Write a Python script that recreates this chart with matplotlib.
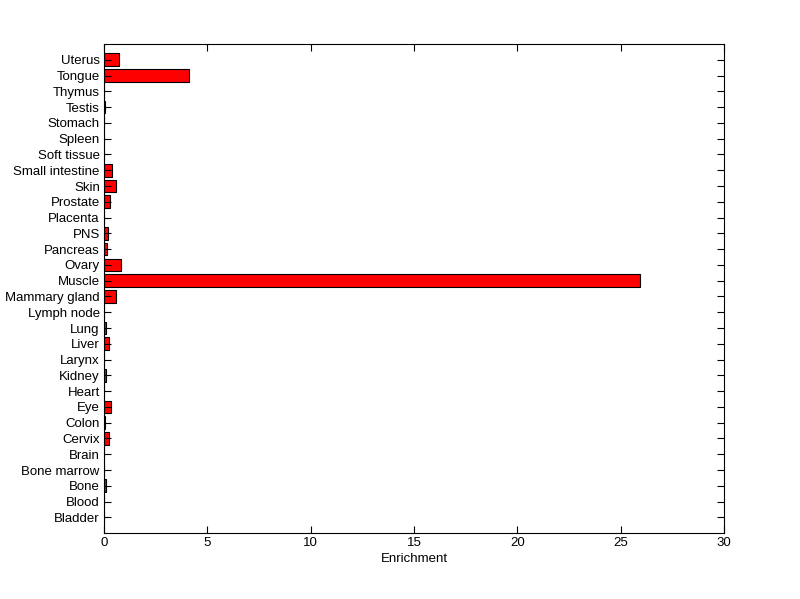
import matplotlib
matplotlib.use("Agg")
import matplotlib.pyplot as plt
import numpy as np

tissues = ["Bladder", "Blood", "Bone", "Bone marrow", "Brain", "Cervix", "Colon", "Eye",
           "Heart", "Kidney", "Larynx", "Liver", "Lung", "Lymph node", "Mammary gland",
           "Muscle", "Ovary", "Pancreas", "PNS", "Placenta", "Prostate", "Skin",
           "Small intestine", "Soft tissue", "Spleen", "Stomach", "Testis", "Thymus",
           "Tongue", "Uterus"]
enrichment = [0, 0, 0.10, 0, 0, 0.26, 0.05, 0.34,
              0, 0.10, 0, 0.24, 0.10, 0, 0.58,
              25.95, 0.82, 0.15, 0.18, 0, 0.29, 0.58,
              0.39, 0, 0, 0, 0.07, 0,
              4.13, 0.73]
xticks = [0, 5, 10, 15, 20, 25, 30]

plt.rcParams['font.family'] = ['Liberation Sans', 'DejaVu Sans']
fig = plt.figure(figsize=(8, 5.99), dpi=100)
ax = fig.add_axes([0.13, 0.110, 0.775, 0.8165])
pos = np.arange(1, len(tissues) + 1)
ax.barh(pos, enrichment, height=0.8, color='#ff0000', edgecolor='black', linewidth=0.8)
ax.set_ylim(0, len(tissues) + 1)
ax.set_xlim(0, 30)
ax.set_yticks(pos)
ax.set_yticklabels(tissues, fontsize=9.5)
ax.set_xticks(xticks)
ax.set_xticklabels([str(v) for v in xticks], fontsize=9.5)
ax.tick_params(direction='in', top=True, right=True, length=5, width=0.8, pad=3)
ax.set_xlabel("Enrichment", fontsize=9.5, labelpad=3)
for s in ax.spines.values():
    s.set_linewidth(0.8)
fig.savefig("out.png", dpi=100)
